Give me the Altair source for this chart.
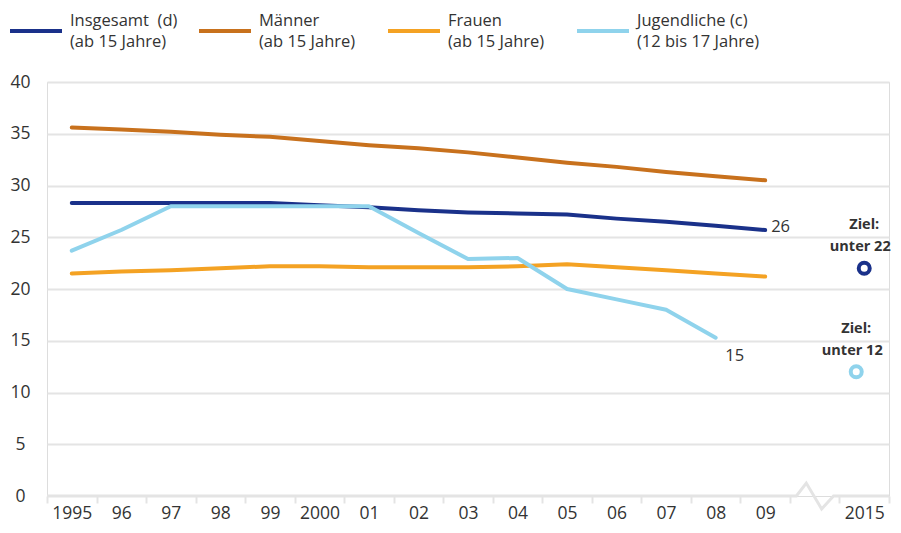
import altair as alt
import pandas as pd

# ---- data -------------------------------------------------------------
years = list(range(1995, 2010))
insgesamt = [28.3, 28.3, 28.3, 28.3, 28.3, 28.1, 27.9, 27.6, 27.4, 27.3, 27.2, 26.8, 26.5, 26.1, 25.7]
maenner = [35.6, 35.4, 35.2, 34.9, 34.7, 34.3, 33.9, 33.6, 33.2, 32.7, 32.2, 31.8, 31.3, 30.9, 30.5]
frauen = [21.5, 21.7, 21.8, 22.0, 22.2, 22.2, 22.1, 22.1, 22.1, 22.2, 22.4, 22.1, 21.8, 21.5, 21.2]
jugend_years = list(range(1995, 2009))
jugendliche = [23.7, 25.7, 28.0, 28.0, 28.0, 28.0, 28.0, 25.4, 22.9, 23.0, 20.0, 19.0, 18.0, 15.3]

series_names = [
    "Insgesamt\u00a0 (d)\n(ab 15 Jahre)",
    "Männer\n(ab 15 Jahre)",
    "Frauen\n(ab 15 Jahre)",
    "Jugendliche (c)\n(12 bis 17 Jahre)",
]
colors = ["#1a318a", "#c8711d", "#f4a223", "#8fd3ec"]

target_year = 2015
target_values = [22, 12]           # Insgesamt, Jugendliche
target_lines1 = ["Ziel:", "Ziel:"]
target_lines2 = ["unter 22", "unter 12"]

end_label_values = ["26", "15"]

# one slot per category on the x axis (blank slot = axis break)
tick_labels = ["1995", "96", "97", "98", "99", "2000", "01", "02", "03", "04",
               "05", "06", "07", "08", "09", " ", "2015"]

# axis break decoration on the baseline (slot units, value units)
break_pos = [0, 15.13, 15.33, 15.64, 15.88, 17]
break_val = [0, 0, 1.25, -1.25, 0, 0]

# ---- tables -----------------------------------------------------------
rows = []
for name, ys, vals in [(series_names[0], years, insgesamt),
                       (series_names[1], years, maenner),
                       (series_names[2], years, frauen),
                       (series_names[3], jugend_years, jugendliche)]:
    for yr, v in zip(ys, vals):
        rows.append({"series": name, "year": yr, "value": v})
df = pd.DataFrame(rows)

targets = pd.DataFrame({
    "series": [series_names[0], series_names[3]],
    "year": [target_year, target_year],
    "value": target_values,
    "l1": target_lines1,
    "l2": target_lines2,
})

ends = pd.DataFrame({
    "series": [series_names[0], series_names[3]],
    "year": [years[-1], jugend_years[-1]],
    "value": [insgesamt[-1], jugendliche[-1]],
    "label": end_label_values,
})

baseline = pd.DataFrame({"pos": break_pos, "value": break_val})

slot_expr = ("[" + ",".join("'%s'" % t for t in tick_labels) + "]"
             "[datum.year <= 2009 ? datum.year - 1995 : 16]")

FONT = "Open Sans"
TXT = "#333333"
GRID = "#e4e4e4"
LABEL_DY = -10.5   # centres the two-line legend labels on their symbols

x_enc = alt.X(
    "slot:N",
    sort=tick_labels,
    scale=alt.Scale(domain=tick_labels, paddingInner=0, paddingOuter=0),
    axis=alt.Axis(
        labelAngle=0,
        labelAlign="center",
        labelFontSize=17.5,
        labelColor=TXT,
        labelPadding=12,
        labelOverlap=False,
        tickBand="extent",
        tickSize=7,
        tickWidth=2,
        tickColor=GRID,
        domain=False,
        grid=False,
        title=None,
    ),
)

y_enc = alt.Y(
    "value:Q",
    scale=alt.Scale(domain=[0, 40], nice=False),
    axis=alt.Axis(
        values=[0, 5, 10, 15, 20, 25, 30, 35, 40],
        labelAlign="center",
        labelPadding=27,
        labelOffset=-LABEL_DY,
        tickSize=0,
        ticks=False,
        domain=False,
        labelFontSize=17.5,
        labelColor=TXT,
        grid=True,
        gridColor=GRID,
        gridWidth=2,
        gridOpacity={"condition": {"test": "datum.value === 0", "value": 0}, "value": 1},
        title=None,
    ),
)

color_scale = alt.Scale(domain=series_names, range=colors)

base_line = alt.Chart(baseline).mark_line(
    color=GRID, strokeWidth=3, clip=False
).encode(
    x=alt.X("pos:Q", scale=alt.Scale(domain=[0, 17], nice=False, zero=False), axis=None),
    y=y_enc,
    order=alt.Order("pos:Q"),
)

lines = alt.Chart(df).transform_calculate(slot=slot_expr).mark_line(
    strokeWidth=4, strokeCap="round", strokeJoin="round"
).encode(
    x=x_enc,
    y=y_enc,
    color=alt.Color(
        "series:N",
        scale=color_scale,
        legend=alt.Legend(
            title=None,
            orient="none",
            legendX=-39,
            legendY=-79,
            direction="horizontal",
            columns=4,
            gridAlign="all",
            columnPadding=-2,
            symbolType="stroke",
            symbolSize=2704,
            symbolStrokeWidth=4,
            labelOffset=6,
            labelFontSize=16.5,
            labelColor=TXT,
            labelLimit=400,
            labelExpr="split(datum.label, '\\n')",
            padding=0,
        ),
    ),
)

end_text = alt.Chart(ends).transform_calculate(slot=slot_expr)
end26 = end_text.transform_filter(alt.datum.label == end_label_values[0]).mark_text(
    align="left", baseline="middle", dx=6, dy=-3, fontSize=16.5, color=TXT
).encode(x=x_enc, y=y_enc, text="label:N")
end15 = end_text.transform_filter(alt.datum.label == end_label_values[1]).mark_text(
    align="center", baseline="middle", dx=19, dy=18, fontSize=16.5, color=TXT
).encode(x=x_enc, y=y_enc, text="label:N")

tbase = alt.Chart(targets).transform_calculate(slot=slot_expr)
layers_t = []
for i, (col, xoff) in enumerate([(colors[0], 0), (colors[3], -8)]):
    t = tbase.transform_filter(alt.datum.value == target_values[i])
    layers_t.append(t.mark_point(
        shape="circle", filled=False, fill="white", fillOpacity=1, stroke=col,
        strokeWidth=4, size=121, opacity=1, xOffset=xoff
    ).encode(x=x_enc, y=y_enc))
    layers_t.append(t.mark_text(
        align="center", baseline="middle", dy=-43, dx=xoff, fontSize=14.5,
        fontWeight="bold", color=TXT
    ).encode(x=x_enc, y=y_enc, text="l1:N"))
    layers_t.append(t.mark_text(
        align="center", baseline="middle", dy=-21, dx=xoff - 4, fontSize=14.5,
        fontWeight="bold", color=TXT
    ).encode(x=x_enc, y=y_enc, text="l2:N"))

main = alt.layer(lines, end26, end15, *layers_t)

chart = alt.layer(base_line, main).resolve_scale(x="independent").properties(
    width=842,
    height=414,
    autosize=alt.AutoSizeParams(type="none"),
    padding={"left": 39, "top": 74, "right": 4, "bottom": 29},
    background="white",
).configure_view(stroke=None).configure(
    font=FONT,
    style={"guide-label": {"dy": LABEL_DY, "lineHeight": 21}},
)

chart.save("out.html", embed_options={"renderer": "svg", "actions": False})
